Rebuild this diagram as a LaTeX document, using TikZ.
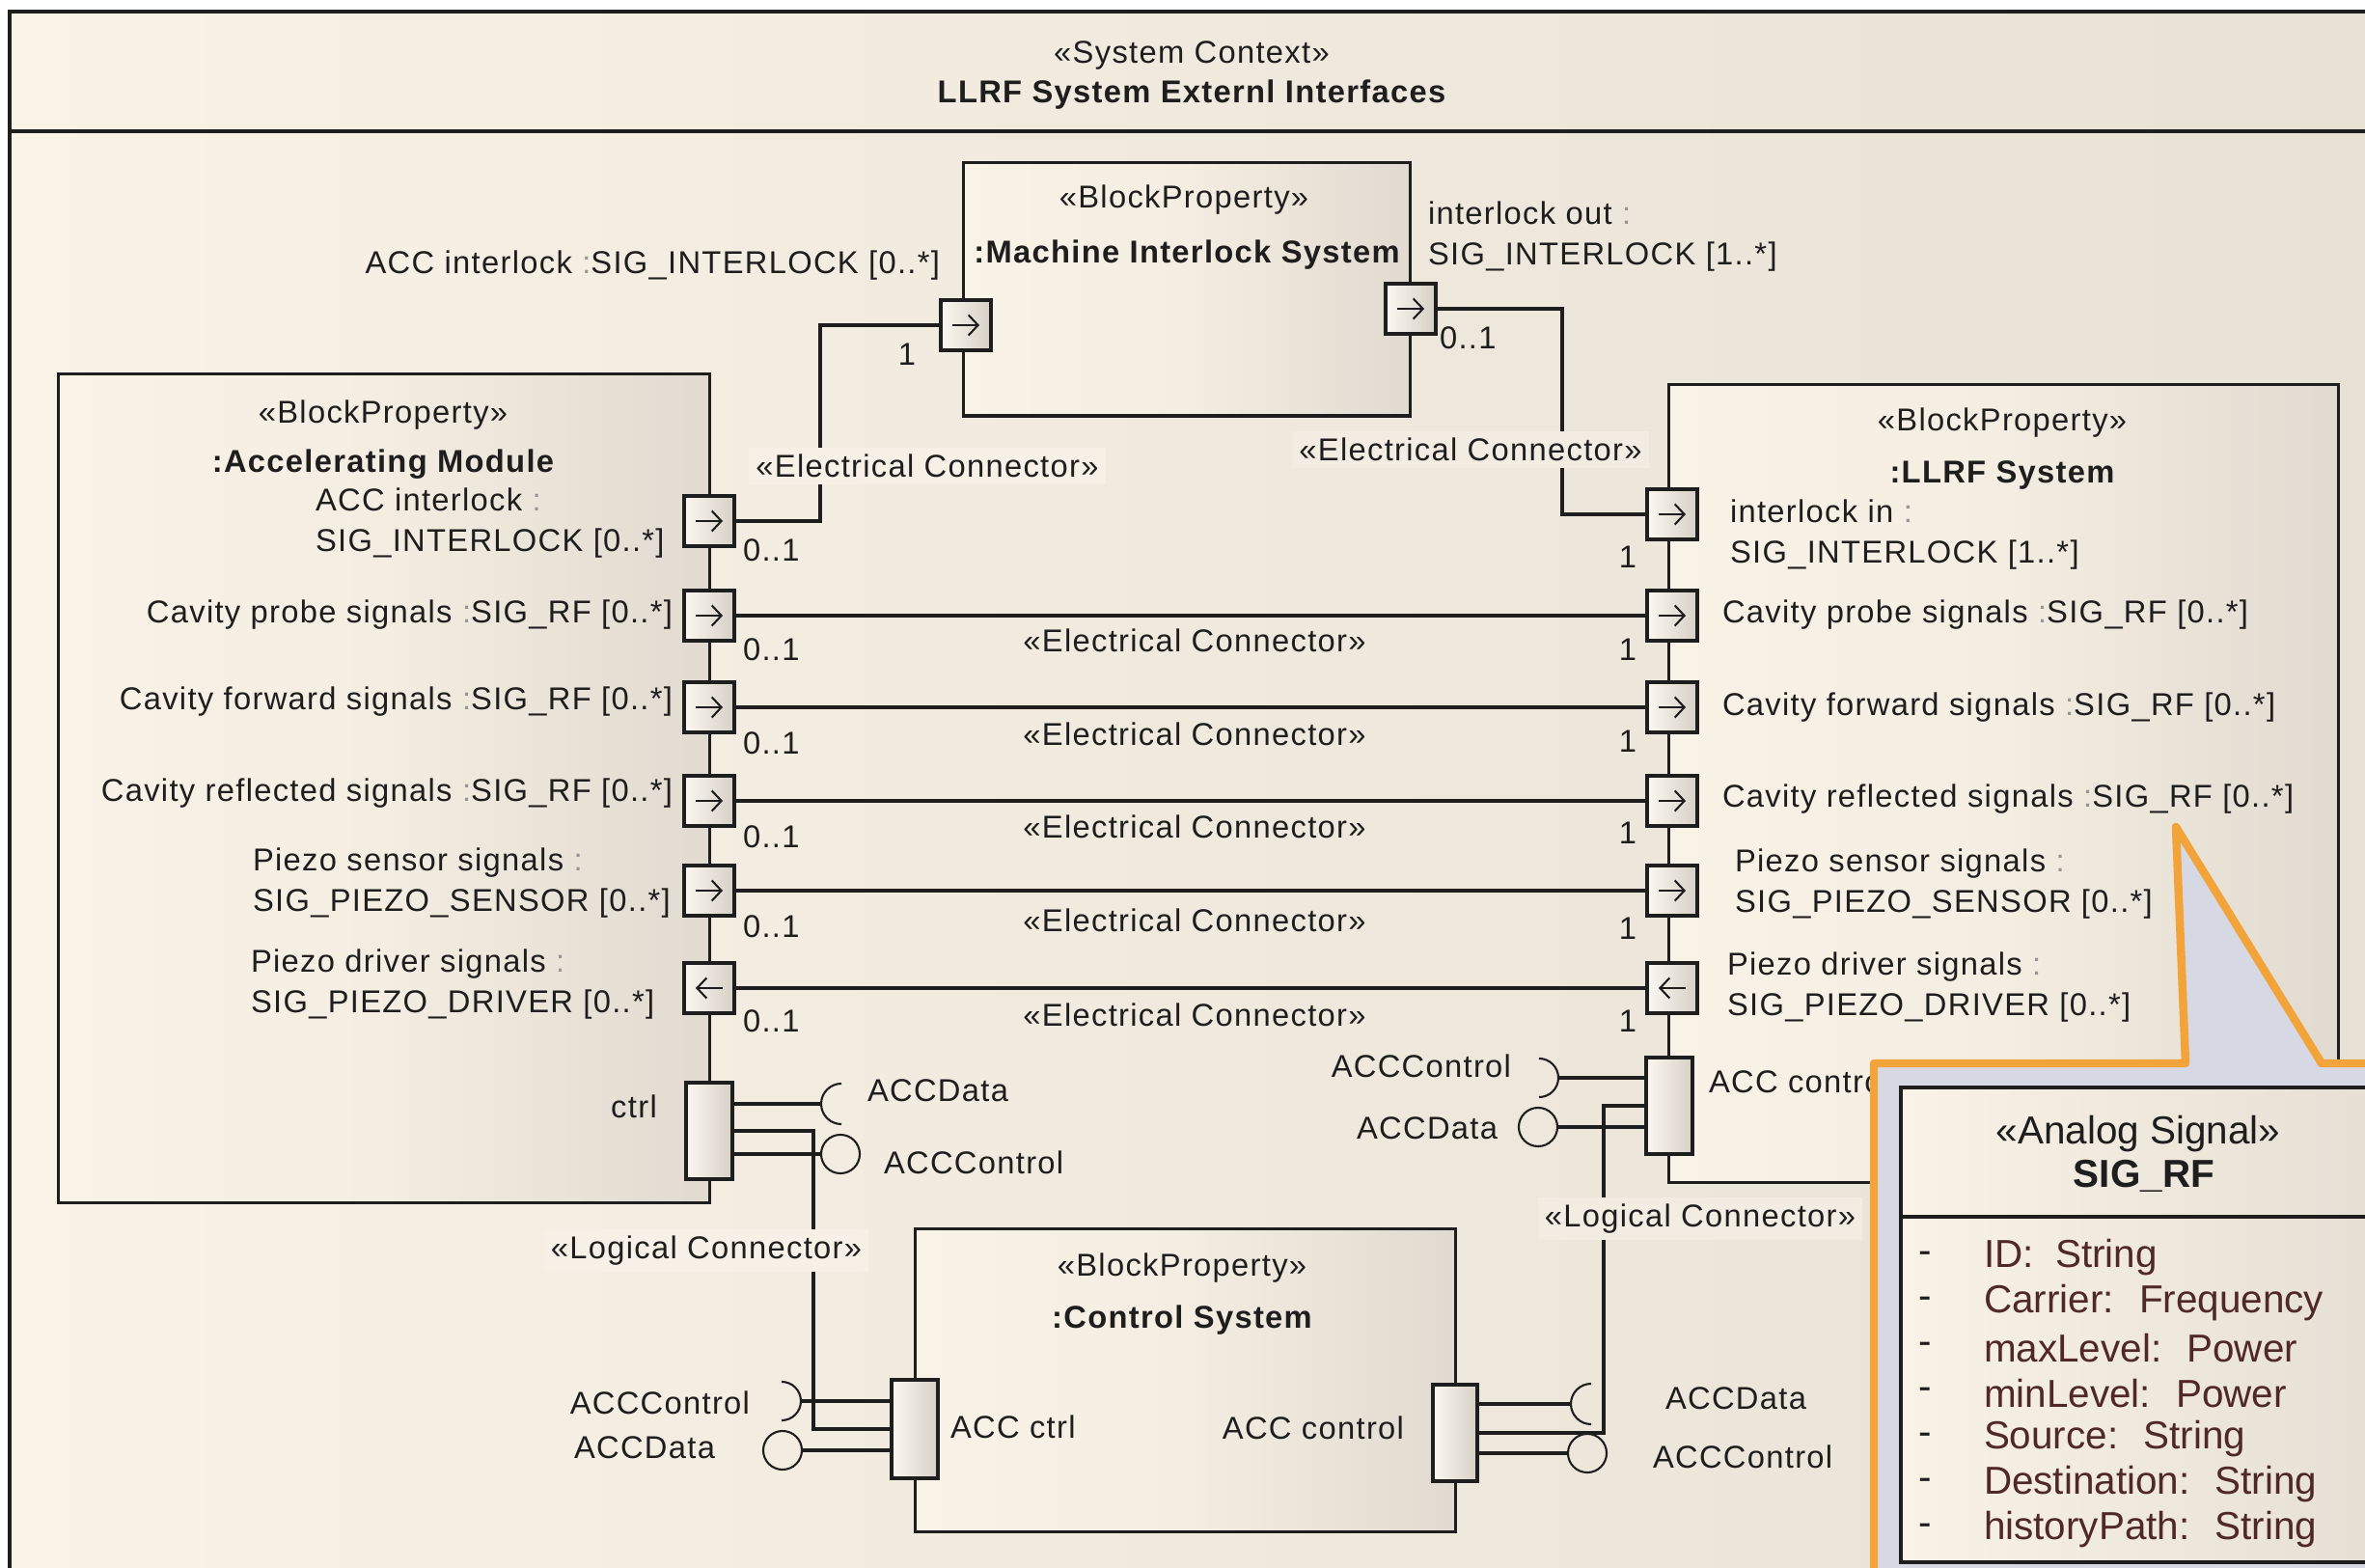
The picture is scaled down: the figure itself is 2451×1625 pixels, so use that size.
\documentclass[tikz,border=0pt]{standalone}
\usepackage{fontspec}
\setmainfont{Liberation Sans}[LetterSpace=4]
\newfontfamily\callfont{Liberation Sans}
\usetikzlibrary{arrows.meta}
\definecolor{cream}{RGB}{249,242,230}
\definecolor{frameright}{RGB}{231,225,214}
\definecolor{blockdark}{RGB}{224,218,208}
\definecolor{portdark}{RGB}{214,208,198}
\definecolor{orangeC}{RGB}{242,163,58}
\definecolor{callgray}{RGB}{214,217,227}
\definecolor{attrcol}{RGB}{80,40,40}
\definecolor{fillA}{RGB}{246,240,230}
\definecolor{fillB}{RGB}{242,236,226}
\definecolor{ink}{RGB}{30,30,30}
\definecolor{colgray}{RGB}{150,150,150}
\newcommand\cln{\textcolor{colgray}{:}}
\newcommand\rport[2]{\node[port] (#1) at (#2) {}; \draw[parrow] ([xshift=-0.14cm]#1.center) -- ([xshift=0.14cm]#1.center);}
\newcommand\lport[2]{\node[port] (#1) at (#2) {}; \draw[parrow] ([xshift=0.14cm]#1.center) -- ([xshift=-0.14cm]#1.center);}
\tikzset{
  txt/.style={inner sep=0pt, outer sep=0pt, text=ink, font=\fontsize{9.3}{12}\selectfont},
  twoline/.style={txt, align=left},
  boldtxt/.style={txt, font=\fontsize{9.3}{12}\selectfont\bfseries},
  conlbl/.style={txt, inner sep=2pt},
  blockbox/.style={draw=ink, line width=0.9pt, left color=cream, right color=blockdark, middle color=cream!80!blockdark, inner sep=0pt, outer sep=0pt},
  port/.style={draw=ink, line width=0.9pt, left color=cream!60!white, right color=portdark, inner sep=0pt, outer sep=0pt, minimum width=0.52cm, minimum height=0.52cm},
  ctrlport/.style={port, minimum width=0.48cm, minimum height=1.0cm},
  parrow/.style={line width=0.6pt, draw=ink, -{Straight Barb[length=2.8pt,width=6pt]}},
  wire/.style={line width=0.9pt, draw=ink},
  ball/.style={draw=ink, line width=0.6pt, circle, minimum size=0.4cm, inner sep=0pt, outer sep=0pt},
  sock/.style={draw=ink, line width=0.6pt},
  calltxt/.style={inner sep=0pt, outer sep=0pt, text=attrcol, font=\callfont\fontsize{11.5}{13}\selectfont},
}
\begin{document}
\begin{tikzpicture}[x=0.01cm,y=-0.01cm]
\useasboundingbox (0,0) rectangle (2451,1625);
\clip (0,0) rectangle (2451,1625);
\fill[white] (0,0) rectangle (2451,1625);
\shade[left color=cream, right color=frameright] (10,12) rectangle (2460,1630);
\draw[line width=1.1pt, draw=ink] (2460,12) -- (10,12) -- (10,1630);
\draw[line width=1.3pt, draw=ink] (10,136) -- (2460,136);
\node[txt] (stereo) at (1235,57) {«System Context»};
\node[boldtxt] (title) at (1235,98) {LLRF System Externl Interfaces};

% blocks
\node[blockbox, minimum width=4.62cm, minimum height=2.62cm] (mis) at (1230,300) {};
\node[blockbox, minimum width=6.74cm, minimum height=8.58cm] (acc) at (398,817) {};
\node[blockbox, minimum width=6.93cm, minimum height=8.26cm] (llrf) at (2076.5,812) {};
\node[blockbox, minimum width=5.59cm, minimum height=3.13cm] (ctl) at (1228.5,1430.5) {};

\node[txt] (misst) at (1227,207) {«BlockProperty»};
\node[boldtxt] (misnm) at (1230,264) {:Machine Interlock System};
\node[txt] (accst) at (397,430) {«BlockProperty»};
\node[boldtxt] (accnm) at (397,481) {:Accelerating Module};
\node[txt] (llst) at (2075,438) {«BlockProperty»};
\node[boldtxt] (llnm) at (2075,492) {:LLRF System};
\node[txt] (ctlst) at (1225,1314) {«BlockProperty»};
\node[boldtxt] (ctlnm) at (1225,1368) {:Control System};

% interface symbols
\node[ball] (aB) at (871,1196) {};
\node[ball] (lB) at (1594,1168) {};
\node[ball] (cLB) at (811,1503) {};
\node[ball] (cRB) at (1645,1506) {};
\coordinate (aSk) at (851,1144);
\coordinate (lSk) at (1615,1117);
\coordinate (cLSk) at (830,1452);
\coordinate (cRSk) at (1628,1455);

% ports
\rport{mL}{1001,337}
\rport{mR}{1462,320}
\rport{aIL}{735,540}
\rport{aP}{735,638}
\rport{aF}{735,733}
\rport{aR}{735,830}
\rport{aS}{735,923}
\lport{aD}{735,1024}
\rport{lIL}{1733,533}
\rport{lP}{1733,638}
\rport{lF}{1733,733}
\rport{lR}{1733,830}
\rport{lS}{1733,923}
\lport{lD}{1733,1024}
\node[ctrlport] (aC) at (735,1172) {};
\node[ctrlport] (lC) at (1730,1146) {};
\node[ctrlport, minimum height=1.02cm] (cL) at (948,1481) {};
\node[ctrlport, minimum width=0.46cm] (cR) at (1508,1485) {};

\draw[wire] (aIL.east) -- ++(89,0) |- (mL.west);
\draw[wire] (mR.east) -- ++(131,0) |- (lIL.west);
\draw[wire] (aP) -- (lP);
\draw[wire] (aF) -- (lF);
\draw[wire] (aR) -- (lR);
\draw[wire] (aS) -- (lS);
\draw[wire] (aD) -- (lD);

\draw[wire] (aC.east |- aSk) -- (aSk);
\draw[sock] (aSk) arc[start angle=180,end angle=90,radius=0.21cm];
\draw[sock] (aSk) arc[start angle=180,end angle=270,radius=0.21cm];
\draw[wire] (aC.east |- aB) -- (aB.west);
\draw[wire] (aC.east) -- ++(84,0) |- (cL.west);

\draw[wire] (lC.west |- lSk) -- (lSk);
\draw[sock] (lSk) arc[start angle=0,end angle=90,radius=0.2cm];
\draw[sock] (lSk) arc[start angle=0,end angle=-90,radius=0.2cm];
\draw[wire] (lC.west |- lB) -- (lB.east);
\draw[wire] (cR.east) -- ++(131,0) |- (lC.west);

\draw[wire] (cL.west |- cLSk) -- (cLSk);
\draw[sock] (cLSk) arc[start angle=0,end angle=90,radius=0.2cm];
\draw[sock] (cLSk) arc[start angle=0,end angle=-90,radius=0.2cm];
\draw[wire] (cL.west |- cLB) -- (cLB.east);

\draw[wire] (cR.east |- cRSk) -- (cRSk);
\draw[sock] (cRSk) arc[start angle=180,end angle=90,radius=0.21cm];
\draw[sock] (cRSk) arc[start angle=180,end angle=270,radius=0.21cm];
\draw[wire] (cR.east |- cRB) -- (cRB.west);

% port labels
\node[txt, anchor=east] (lblmisL) at (974,275) {ACC interlock \cln SIG\_INTERLOCK [0..*]};
\node[twoline, anchor=west] (lblmisR) at (1480,245) {interlock out \cln\\SIG\_INTERLOCK [1..*]};
\node[twoline, anchor=west] (lblaIL) at (327,542) {ACC interlock \cln\\SIG\_INTERLOCK [0..*]};
\node[txt, anchor=east] (lblaP) at (697,637) {Cavity probe signals \cln SIG\_RF [0..*]};
\node[txt, anchor=east] (lblaF) at (697,727) {Cavity forward signals \cln SIG\_RF [0..*]};
\node[txt, anchor=east] (lblaR) at (697,822) {Cavity reflected signals \cln SIG\_RF [0..*]};
\node[twoline, anchor=west] (lblaS) at (262,915) {Piezo sensor signals \cln\\SIG\_PIEZO\_SENSOR [0..*]};
\node[twoline, anchor=west] (lblaD) at (260,1020) {Piezo driver signals \cln\\SIG\_PIEZO\_DRIVER [0..*]};
\node[twoline, anchor=west] (lbllIL) at (1793,554) {interlock in \cln\\SIG\_INTERLOCK [1..*]};
\node[txt, anchor=west] (lbllP) at (1785,637) {Cavity probe signals \cln SIG\_RF [0..*]};
\node[txt, anchor=west] (lbllF) at (1785,733) {Cavity forward signals \cln SIG\_RF [0..*]};
\node[txt, anchor=west] (lbllR) at (1785,828) {Cavity reflected signals \cln SIG\_RF [0..*]};
\node[twoline, anchor=west] (lbllS) at (1798,916) {Piezo sensor signals \cln\\SIG\_PIEZO\_SENSOR [0..*]};
\node[twoline, anchor=west] (lbllD) at (1790,1023) {Piezo driver signals \cln\\SIG\_PIEZO\_DRIVER [0..*]};
\node[txt] (lblctrl) at (657,1147) {ctrl};
\node[txt, anchor=west] (lblcL) at (985,1479) {ACC ctrl};
\node[txt, anchor=east] (lblcR) at (1455,1480) {ACC control};
\node[txt, anchor=west] (lbllC) at (1771,1121) {ACC control};
\node[txt, anchor=west] (iA1) at (899,1130) {ACCData};
\node[txt, anchor=west] (iA2) at (916,1205) {ACCControl};
\node[txt, anchor=east] (iL1) at (1566,1105) {ACCControl};
\node[txt, anchor=east] (iL2) at (1552,1169) {ACCData};
\node[txt, anchor=east] (iC1) at (777,1454) {ACCControl};
\node[txt, anchor=east] (iC2) at (741,1500) {ACCData};
\node[txt, anchor=west] (iR1) at (1726,1449) {ACCData};
\node[txt, anchor=west] (iR2) at (1713,1510) {ACCControl};

% multiplicities
\node[txt] (mu0) at (940,367) {1};
\node[txt, anchor=west] (mu1) at (1492,350) {0..1};
\foreach \yy [count=\k] in {570,673,770,867,960,1058} {
  \node[txt, anchor=west] (ml\k) at (770,\yy) {0..1};
}
\foreach \yy [count=\k] in {577,673,768,863,962,1058} {
  \node[txt] (mr\k) at (1687,\yy) {1};
}

% connector labels
\node[conlbl, fill=fillA] (ec1) at (961,483) {«Electrical Connector»};
\node[conlbl, fill=fillB] (ec2) at (1524,466) {«Electrical Connector»};
\foreach \yy [count=\k] in {664,761,857,954,1052} {
  \node[conlbl] (ecm\k) at (1238,\yy) {«Electrical Connector»};
}
\node[conlbl, fill=fillA] (lc1) at (732,1296) {«Logical Connector»};
\node[conlbl, fill=fillB] (lc2) at (1762,1263) {«Logical Connector»};

% callout
\fill[callgray] (1942,1640) -- (1942,1102) -- (2265,1102) -- (2255,857) -- (2406,1102) -- (2470,1102) -- (2470,1640) -- cycle;
\node[draw=ink, line width=1pt, left color=cream, right color=blockdark!80!cream, inner sep=0pt, minimum width=5.0cm, minimum height=4.92cm] (sig) at (2220,1373) {};
\draw[line width=1pt, draw=ink] (sig.west |- 0,1261) -- (sig.east |- 0,1261);
\draw[orangeC, line width=2.4pt, line join=round] (1942,1640) -- (1942,1102) -- (2265,1102) -- (2255,857) -- (2406,1102) -- (2470,1102);
\node[calltxt, text=ink] (sigst) at (2216,1175) {«Analog Signal»};
\node[calltxt, text=ink, font=\callfont\fontsize{11.5}{13}\selectfont\bfseries] (signm) at (2222,1219) {SIG\_RF};
\foreach \nm/\ty [count=\i from 0] in {ID/String, Carrier/Frequency, maxLevel/Power, minLevel/Power, Source/String, Destination/String, historyPath/String} {
  \node[calltxt, anchor=west] (attr\i) at (2056,{1303+47*\i}) {\nm:~ \ty};
  \node[calltxt, text=ink] (dash\i) at (1995,{1303+47*\i}) {-};
}
\end{tikzpicture}
\end{document}
